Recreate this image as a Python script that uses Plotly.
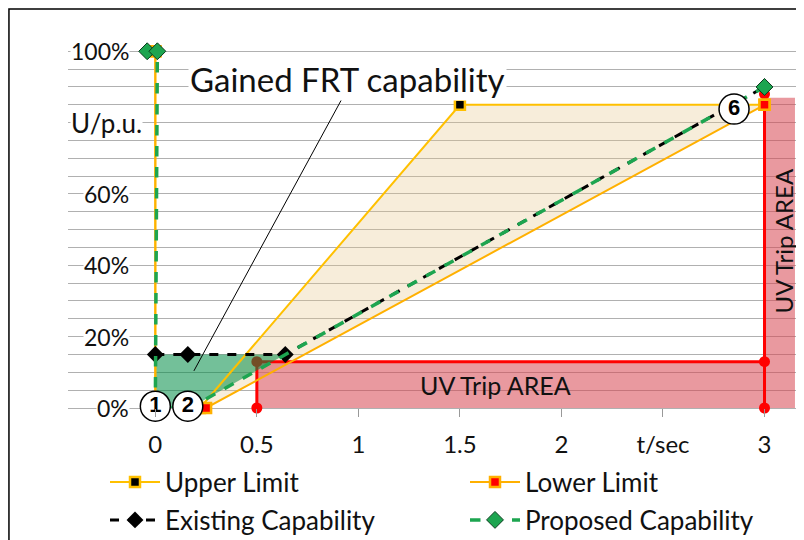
import plotly.graph_objects as go

# ---- data ----
upper_x = [0, 0, 0.22, 1.5, 3]
upper_y = [100, 0, 0, 85, 85]
lower_x = [0, 0, 0.25, 3]
lower_y = [100, 0, 0, 85]
existing_x = [0, 0.16, 0.64, 3]
existing_y = [15, 15, 15, 90]
proposed_x = [-0.04, 0.01, 0, 0.17, 3]
proposed_y = [100, 100, 0, 0, 90]
trip_line_x = [0.5, 0.5, 3, 3, 3]
trip_line_y = [0, 13, 13, 0, 88]
trip_area_x = [0.5, 3, 3, 0.5]
trip_area_y = [0, 0, 13, 13]
trip_side_x = [3, 3.15, 3.15, 3]
trip_side_y = [0, 0, 87, 87]
gained_x = [0, 0, 0.64, 0.17]
gained_y = [0, 15, 15, 0]
band_x = [0.22, 1.5, 3, 0.25]
band_y = [0, 85, 85, 0]
circle_x = [0, 0.16, 2.85]
circle_y = [0.5, 0.5, 83.8]
circle_text = ["1", "2", "6"]
x_tick_vals = [0, 0.5, 1, 1.5, 2, 2.5, 3]
x_tick_text = ["0", "0.5", "1", "1.5", "2", "t/sec", "3"]
y_tick_vals = [0, 20, 40, 60, 80, 100]
y_tick_text = ["0%", "20%", "40%", "60%", "U/p.u.", "100%"]
y_tick_x = [-0.125, -0.125, -0.125, -0.125, -0.059, -0.125]
y_tick_size = [23, 23, 23, 23, 26, 23]

FONT = "Lato"
GOLD = "#FFC000"
ORANGE = "#FFB000"
GREEN = "#1DA550"
RED = "#FF0000"

fig = go.Figure()

# fills
fig.add_trace(go.Scatter(x=band_x, y=band_y, fill="toself", mode="none",
                         fillcolor="rgba(230,200,140,0.32)", showlegend=False, hoverinfo="skip"))
fig.add_trace(go.Scatter(x=trip_area_x, y=trip_area_y, fill="toself", mode="none",
                         fillcolor="rgba(215,70,80,0.55)", showlegend=False, hoverinfo="skip"))
fig.add_trace(go.Scatter(x=trip_side_x, y=trip_side_y, fill="toself", mode="none",
                         fillcolor="rgba(215,70,80,0.55)", showlegend=False, hoverinfo="skip",
                         cliponaxis=False))
fig.add_trace(go.Scatter(x=trip_line_x, y=trip_line_y, mode="lines+markers",
                         line=dict(color=RED, width=3),
                         marker=dict(color=RED, size=11, symbol="circle"),
                         showlegend=False, cliponaxis=False, hoverinfo="skip"))
fig.add_trace(go.Scatter(x=gained_x, y=gained_y, fill="toself", mode="none",
                         fillcolor="rgba(0,140,70,0.55)", showlegend=False, hoverinfo="skip"))

# series
fig.add_trace(go.Scatter(x=upper_x, y=upper_y, mode="lines+markers", name="Upper Limit",
                         line=dict(color=GOLD, width=2),
                         marker=dict(symbol="square", size=10, color="black",
                                     line=dict(color=GOLD, width=2.5)),
                         cliponaxis=False, legend="legend"))
fig.add_trace(go.Scatter(x=lower_x, y=lower_y, mode="lines+markers", name="Lower Limit",
                         line=dict(color=ORANGE, width=2),
                         marker=dict(symbol="square", size=10, color=RED,
                                     line=dict(color=ORANGE, width=2.5)),
                         cliponaxis=False, legend="legend2"))
fig.add_trace(go.Scatter(x=existing_x, y=existing_y, mode="lines+markers", name="Existing Capability",
                         line=dict(color="black", width=3, dash="dash"),
                         marker=dict(symbol="diamond", size=13, color="black"),
                         cliponaxis=False, legend="legend3"))
fig.add_trace(go.Scatter(x=proposed_x, y=proposed_y, mode="lines+markers", name="Proposed Capability",
                         line=dict(color=GREEN, width=3.5, dash="dash"),
                         marker=dict(symbol="diamond", size=13, color=GREEN,
                                     line=dict(color="#0b3d1e", width=1)),
                         cliponaxis=False, legend="legend4"))

# numbered circles
fig.add_trace(go.Scatter(x=circle_x, y=circle_y, mode="markers+text", text=circle_text,
                         textposition="middle center",
                         textfont=dict(family="Liberation Sans", size=22, color="black", weight="bold"),
                         marker=dict(symbol="circle", size=30, color="white",
                                     line=dict(color="black", width=1.5)),
                         showlegend=False, cliponaxis=False, hoverinfo="skip"))

# y tick labels
for xv, yv, tx, sz in zip(y_tick_x, y_tick_vals, y_tick_text, y_tick_size):
    fig.add_annotation(x=xv, y=yv, text=tx, showarrow=False, xanchor="right", yanchor="middle",
                       bgcolor="white", font=dict(family=FONT, size=sz, color="#111"),
                       borderpad=0)

fig.add_annotation(x=0.19, y=10.4, ax=0.926, ay=87.4, axref="x", ayref="y", text="",
                   showarrow=True, arrowhead=0, arrowwidth=1, arrowcolor="black")
fig.add_annotation(x=0.946, y=92.2, text="Gained FRT capability", showarrow=False,
                   bgcolor="white", font=dict(family=FONT, size=33, color="#111"))
fig.add_annotation(x=1.675, y=6.4, text="UV Trip AREA", showarrow=False,
                   font=dict(family=FONT, size=25, color="#111"))
fig.add_annotation(x=3.093, y=46.8, text="UV Trip AREA", showarrow=False, textangle=-90,
                   font=dict(family=FONT, size=24, color="#111"))

leg_common = dict(orientation="h", xref="container", yref="container",
                  xanchor="left", yanchor="middle", itemwidth=50,
                  font=dict(family=FONT, size=26, color="#111"),
                  bgcolor="rgba(0,0,0,0)", borderwidth=0)

fig.update_layout(
    width=804, height=540,
    margin=dict(l=60, r=15, t=29, b=140, autoexpand=False),
    paper_bgcolor="white", plot_bgcolor="white",
    font=dict(family=FONT, size=21, color="#111"),
    xaxis=dict(range=[-0.43, 3.16], showgrid=False, zeroline=False, showline=False,
               tickvals=x_tick_vals, ticktext=x_tick_text, ticks="outside", ticklen=8,
               tickcolor="#999", tickfont=dict(family=FONT, size=24, color="#111"),
               ticklabelstandoff=7),
    yaxis=dict(range=[0, 104], dtick=5, showgrid=True, gridcolor="#b0b0b0", gridwidth=1,
               zeroline=True, zerolinecolor="#b0b0b0", zerolinewidth=1,
               showticklabels=False, showline=False),
    legend=dict(x=97 / 804, y=1 - 474 / 540, **leg_common),
    legend2=dict(x=457 / 804, y=1 - 474 / 540, **leg_common),
    legend3=dict(x=97 / 804, y=1 - 512 / 540, **leg_common),
    legend4=dict(x=457 / 804, y=1 - 512 / 540, **leg_common),
    shapes=[dict(type="path", xref="paper", yref="paper",
                 path="M -0.081,-1 L -0.081,1.0755 L 1.2,1.0755",
                 line=dict(color="black", width=1.5))],
)

fig.write_html("out.html")
